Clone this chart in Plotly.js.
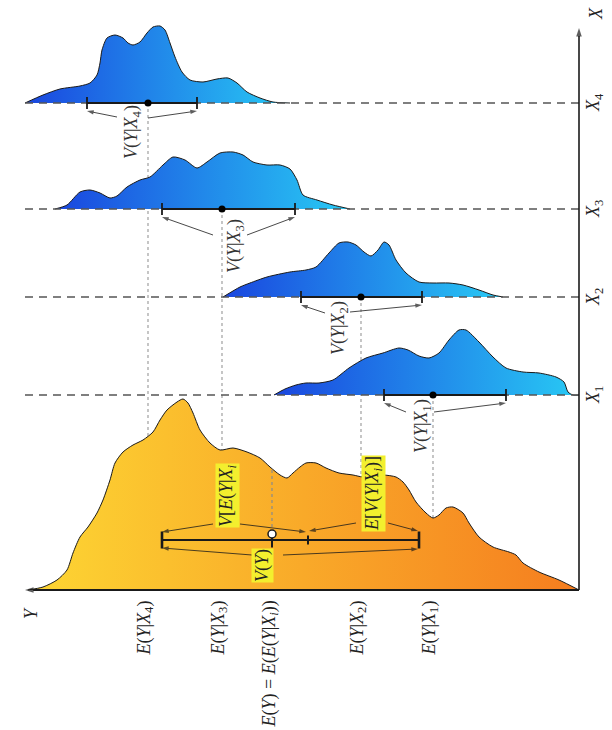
<!DOCTYPE html>
<html>
<head>
<meta charset="utf-8">
<script src="https://cdn.plot.ly/plotly-3.0.1.min.js"></script>
<style>html,body{margin:0;padding:0;background:#fff;}#chart{width:612px;height:730px;}</style>
</head>
<body>
<div id="chart"></div>
<script>
// ---------- data (Y values on the horizontal axis, X levels vertical) ----------
const xLevelNames = ['X1', 'X2', 'X3', 'X4'];
const xLevels = [19.5, 29.3, 38.1, 48.7];
const condMeans = [40.5, 33.3, 19.4, 12.0];
const condLo = [35.6, 27.3, 13.4, 5.9];
const condHi = [47.8, 39.4, 26.7, 16.9];

const totalMean = 24.4;
const totalLo = 13.4;
const totalHi = 39.1;
const totalSplit = 28.0;

// marginal density of Y
const margY = [0, 1.5, 2.9, 3.9, 4.5, 5.2, 6.0, 6.9, 7.5, 8.2, 8.7, 9.5, 10.5, 11.5, 12.5, 13.2, 13.9, 14.9, 15.5, 16.0, 16.5, 17.2, 18.2, 19.2, 20.5, 21.9, 23.2, 24.2, 25.2, 25.9, 26.5, 27.2, 27.8, 28.8, 29.8, 31.1, 32.5, 33.5, 35.5, 36.8, 37.5, 38.1, 38.8, 39.8, 40.5, 41.1, 41.8, 42.5, 43.5, 44.1, 45.1, 46.5, 48.1, 48.8, 49.5, 51.1, 53.1, 55.1];
const margDens = [0, 0.3, 1.0, 2.0, 3.7, 5.3, 6.3, 7.7, 9.0, 11.0, 12.7, 13.8, 14.5, 15.0, 15.8, 17.0, 18.0, 18.8, 19.1, 18.7, 17.7, 16.0, 14.7, 14.0, 14.2, 13.8, 13.2, 12.3, 11.5, 11.2, 11.7, 12.3, 12.7, 12.7, 12.2, 11.7, 11.5, 11.3, 11.5, 11.3, 10.8, 10.0, 8.8, 7.7, 7.2, 7.5, 8.2, 8.3, 7.7, 6.7, 5.3, 4.3, 3.8, 3.5, 2.7, 1.8, 1.0, 0];

// conditional densities of Y given X_i
const cond1Y = [24.6, 25.7, 26.8, 27.8, 29.1, 30.5, 32.1, 33.8, 35.5, 37.1, 38.0, 39.1, 40.1, 41.1, 42.1, 43.1, 43.8, 45.1, 46.5, 47.8, 49.5, 51.1, 52.8, 53.6, 54.0, 54.5, 55.1];
const cond1D = [0, 0.6, 1.0, 1.2, 1.2, 1.5, 2.7, 3.7, 4.2, 4.7, 4.5, 3.9, 3.7, 4.2, 5.5, 6.5, 6.5, 5.3, 3.8, 2.7, 2.3, 2.2, 1.8, 1.3, 0.3, 0, 0];
const cond2Y = [19.5, 21.2, 22.2, 23.9, 26.2, 27.8, 28.8, 30.1, 31.1, 32.0, 32.8, 33.6, 34.3, 35.0, 35.6, 36.1, 36.8, 37.8, 39.1, 40.5, 42.1, 43.5, 45.1, 46.5, 47.5];
const cond2D = [0, 1.0, 1.4, 2.0, 2.5, 2.7, 3.0, 4.4, 5.4, 5.5, 5.2, 4.5, 4.1, 4.7, 5.5, 5.2, 3.7, 2.4, 1.5, 1.4, 1.4, 1.2, 0.7, 0.2, 0];
const cond3Y = [2.7, 3.9, 5.2, 6.2, 7.2, 8.2, 8.9, 9.9, 11.2, 12.2, 13.5, 14.5, 15.7, 16.9, 17.9, 19.2, 20.5, 21.5, 22.5, 23.9, 25.2, 26.2, 26.9, 27.5, 28.9, 30.5, 32.2];
const cond3D = [0, 0.4, 1.7, 1.9, 1.6, 1.1, 1.3, 2.2, 2.9, 3.2, 4.4, 5.2, 4.9, 4.1, 4.7, 5.6, 5.7, 5.4, 4.7, 4.4, 4.4, 4.0, 2.9, 1.4, 0.9, 0.4, 0];
const cond4Y = [-0.3, 1.5, 3.2, 5.2, 6.2, 6.9, 7.2, 7.4, 7.9, 8.7, 9.5, 10.0, 10.5, 11.2, 11.9, 12.5, 13.2, 13.7, 14.2, 14.7, 15.4, 16.2, 17.5, 18.9, 20.0, 20.9, 21.9, 23.2, 24.5, 26.2];
const cond4D = [0, 0.8, 1.4, 1.7, 2.0, 2.8, 4.0, 5.3, 6.5, 6.8, 6.5, 6.0, 5.8, 6.1, 7.0, 7.6, 7.7, 7.3, 6.0, 4.6, 3.1, 2.3, 2.1, 2.4, 2.5, 2.0, 1.1, 0.5, 0.1, 0];

const condY = [cond1Y, cond2Y, cond3Y, cond4Y];
const condD = [cond1D, cond2D, cond3D, cond4D];

// axis extents
const yAxisStart = -0.3;
const yAxisEnd = 55.1;
const xAxisTop = 56.2;

// ---------- helpers ----------
const INK = '#1a1a1a';
const fontFam = 'Liberation Serif, Times New Roman, DejaVu Serif, serif';
const FS = 18;
const blueScale = [[0, '#1a46df'], [1, '#28c9f4']];
const orangeScale = [[0, '#fdd633'], [1, '#f57d1f']];

function densityTraces(xs, hs, level, scale) {
  return [
    {x: [xs[0], xs[xs.length - 1]], y: [level, level], mode: 'lines', line: {width: 0, color: 'rgba(0,0,0,0)'}, hoverinfo: 'skip'},
    {x: xs, y: hs.map(h => level + h), mode: 'lines',
     line: {color: INK, width: 1, shape: 'spline', smoothing: 0.7},
     fill: 'tonexty', fillgradient: {type: 'horizontal', colorscale: scale}, hoverinfo: 'skip'}
  ];
}

const traces = [];

// dotted lines from each conditional mean down (hidden under densities)
xLevels.forEach((lv, i) => {
  traces.push({x: [condMeans[i], condMeans[i]], y: [lv, 0], mode: 'lines',
    line: {color: '#a0a0a0', width: 1.2, dash: 'dot'}, hoverinfo: 'skip'});
});

// marginal density
traces.push(...densityTraces(margY, margDens, 0, orangeScale));
// conditional densities
xLevels.forEach((lv, i) => traces.push(...densityTraces(condY[i], condD[i], lv, blueScale)));

// dotted line to total mean
traces.push({x: [totalMean, totalMean], y: [12.0, 5.6], mode: 'lines',
  line: {color: '#8a8a8a', width: 1.2, dash: 'dot'}, hoverinfo: 'skip'});

// dashed X_i lines
xLevels.forEach(lv => {
  traces.push({x: [yAxisStart, yAxisEnd], y: [lv, lv], mode: 'lines',
    line: {color: '#555', width: 1.3, dash: '8px,6px'}, hoverinfo: 'skip'});
});

// axes (with arrow heads)
function arrowTrace(tx, ty, hx, hy, w, size) {
  traces.push({x: [tx, hx], y: [ty, hy], mode: 'lines+markers',
    line: {color: INK, width: w || 0.8},
    marker: {symbol: 'arrow', angleref: 'previous', size: [0, size || 7], color: INK, line: {width: 0}},
    hoverinfo: 'skip'});
}
arrowTrace(yAxisEnd, 0, yAxisStart, 0, 1.8, 9);
arrowTrace(yAxisEnd, 0, yAxisEnd, xAxisTop, 1.6, 9);

// conditional spread bars
xLevels.forEach((lv, i) => {
  traces.push({x: [condLo[i], condHi[i]], y: [lv, lv], mode: 'lines', line: {color: INK, width: 1.8}, hoverinfo: 'skip'});
  traces.push({x: [condLo[i], condLo[i], null, condHi[i], condHi[i]], y: [lv - 0.6, lv + 0.6, null, lv - 0.6, lv + 0.6],
    mode: 'lines', line: {color: INK, width: 1.8}, hoverinfo: 'skip'});
});
traces.push({x: condMeans, y: xLevels, mode: 'markers', marker: {color: '#000', size: 7}, hoverinfo: 'skip'});

// total spread bar
const barV = 5.0;
traces.push({x: [totalLo, totalHi], y: [barV, barV], mode: 'lines', line: {color: INK, width: 2.2}, hoverinfo: 'skip'});
traces.push({x: [totalLo, totalLo, null, totalHi, totalHi], y: [barV - 0.85, barV + 0.85, null, barV - 0.85, barV + 0.85],
  mode: 'lines', line: {color: INK, width: 2.6}, hoverinfo: 'skip'});
traces.push({x: [totalSplit, totalSplit], y: [barV - 0.45, barV + 0.45], mode: 'lines', line: {color: INK, width: 2}, hoverinfo: 'skip'});
traces.push({x: [totalMean, totalMean], y: [barV + 0.5, barV - 0.75], mode: 'lines', line: {color: INK, width: 2}, hoverinfo: 'skip'});
traces.push({x: [totalMean], y: [barV + 0.6], mode: 'markers',
  marker: {color: '#fff', size: 8, line: {color: INK, width: 1.5}}, hoverinfo: 'skip'});

// conditional variance arrows
const tailL = [[37.8, 17.8], [29.7, 27.7], [18.5, 35.5], [8.9, 47.3]];
const tailR = [[40.6, 17.8], [32.2, 27.8], [21.9, 35.5], [12.0, 47.2]];
xLevels.forEach((lv, i) => {
  arrowTrace(tailL[i][0], tailL[i][1], condLo[i], lv - 0.8);
  arrowTrace(tailR[i][0], tailR[i][1], condHi[i], lv - 0.8);
});
// total variance decomposition arrows
arrowTrace(18.5, 6.6, totalLo, barV + 0.8);
arrowTrace(21.2, 6.6, totalSplit - 0.2, barV + 0.8);
arrowTrace(32.8, 6.7, totalSplit + 0.1, barV + 0.9);
arrowTrace(36.0, 6.7, totalHi - 0.1, barV + 0.9);
arrowTrace(22.4, 3.5, totalLo, barV - 0.8);
arrowTrace(25.5, 3.5, totalHi - 0.1, barV - 0.9);

// ---------- annotations (text) ----------
const ann = [];
function label(x, y, txt, opts) {
  ann.push(Object.assign({x: x, y: y, xref: 'x', yref: 'y', text: txt, showarrow: false, textangle: -90,
    font: {family: fontFam, size: FS, color: '#222'}, xanchor: 'center', yanchor: 'middle', borderpad: 0}, opts || {}));
}

label(0.3, -2.3, '<i>Y</i>');
label(56.8, 57.6, '<i>X</i>');
xLevels.forEach((lv, i) => label(56.6, lv, '<i>X</i><sub>' + (i + 1) + '</sub>'));

const vLabX = [39.4, 31.1, 20.7, 10.4];
const vLabY = [16.4, 26.2, 34.4, 45.8];
xLevels.forEach((lv, i) => {
  label(vLabX[i], vLabY[i], '<i>V</i>(<i>Y</i>|<i>X</i><sub>' + (i + 1) + '</sub>)', {font: {family: fontFam, size: FS, color: '#333'}});
});

const hl = '#f3ef2e';
label(19.9, 9.4, '<i>V</i>[<i>E</i>(<i>Y</i>|<i>X<sub>i</sub></i>', {bgcolor: hl});
label(34.5, 9.6, '<i>E</i>[<i>V</i>(<i>Y</i>|<i>X<sub>i</sub></i>)]', {bgcolor: hl});
label(23.4, 2.4, '<i>V</i>(<i>Y</i>)', {bgcolor: hl});

const meanNames = xLevelNames.map((n, i) => '<i>E</i>(<i>Y</i>|<i>X</i><sub>' + (i + 1) + '</sub>)');
condMeans.forEach((m, i) => label(m - 0.3, -1.0, meanNames[i], {yanchor: 'top'}));
label(totalMean - 0.2, -1.0, '<i>E</i>(<i>Y</i>) = <i>E</i>(<i>E</i>(<i>Y</i>|<i>X<sub>i</sub></i>))', {yanchor: 'top'});

const layout = {
  width: 612, height: 730,
  margin: {l: 0, r: 0, t: 0, b: 0},
  paper_bgcolor: '#fff', plot_bgcolor: '#fff',
  showlegend: false,
  xaxis: {range: [-2.8, 58.4], autorange: false, visible: false, fixedrange: true},
  yaxis: {range: [-14, 59], autorange: false, visible: false, fixedrange: true},
  annotations: ann
};

Plotly.newPlot('chart', traces, layout, {staticPlot: true, displayModeBar: false});
</script>
</body>
</html>
